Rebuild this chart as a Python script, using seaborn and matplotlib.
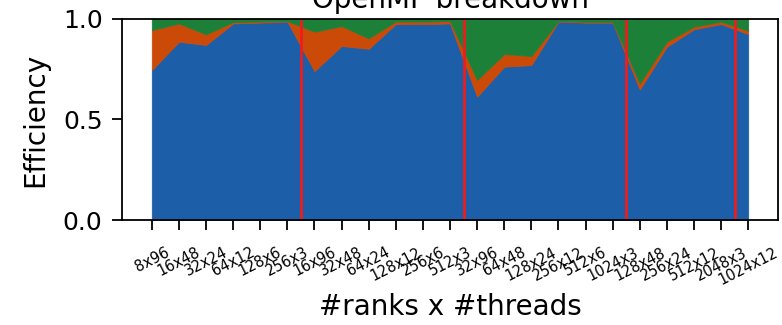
import matplotlib
matplotlib.use("Agg")
import matplotlib.pyplot as plt
import seaborn as sns
import numpy as np

labels = ["8x96", "16x48", "32x24", "64x12", "128x6", "256x3",
          "16x96", "32x48", "64x24", "128x12", "256x6", "512x3",
          "32x96", "64x48", "128x24", "256x12", "512x6", "1024x3",
          "128x48", "256x24", "512x12", "2048x3", "1024x12"]

parallel_eff = [0.746, 0.887, 0.871, 0.978, 0.982, 0.987,
                0.741, 0.866, 0.852, 0.975, 0.975, 0.978,
                0.614, 0.763, 0.771, 0.987, 0.982, 0.982,
                0.650, 0.862, 0.949, 0.975, 0.925]
omp_total = [0.945, 0.978, 0.924, 0.985, 0.988, 0.990,
             0.937, 0.965, 0.904, 0.988, 0.987, 0.990,
             0.697, 0.826, 0.816, 0.990, 0.987, 0.987,
             0.680, 0.887, 0.962, 0.987, 0.942]
total = [1.0] * 23

group_bounds = [5.5, 11.5, 17.5, 21.5]

blue = "#1c5fa8"
orange = "#cc4a08"
green = "#1d8039"
red = "#ee1c1c"

sns.set_theme(style="ticks", rc={"text.color": "black", "axes.labelcolor": "black",
                                 "xtick.color": "black", "ytick.color": "black"})
plt.rcParams['font.family'] = ['DejaVu Sans']

fig = plt.figure(figsize=(7.82, 3.25), dpi=100)
ax = fig.add_axes([122/782, 105/325, (778-122)/782, (220-19)/325])

x = np.arange(len(labels))
p = np.array(parallel_eff)
o = np.array(omp_total) - p
g = np.array(total) - np.array(omp_total)
ax.stackplot(x, p, o, g, colors=[blue, orange, green], linewidth=0.6,
             edgecolor="face")
for b in group_bounds:
    ax.axvline(b, color=red, linewidth=2.0)

ax.set_ylim(0, 1)
ax.set_yticks([0.0, 0.5, 1.0])
ax.set_yticklabels(["0.0", "0.5", "1.0"], fontsize=18)
ax.set_xticks(x)
ax.set_xticklabels(labels, rotation=27, fontsize=10.5, ha="center")
ax.tick_params(axis="both", length=7, width=1.3, color="black")
ax.tick_params(axis="y", pad=7)
ax.tick_params(axis="x", pad=11)
for s in ax.spines.values():
    s.set_linewidth(1.3)
    s.set_color("black")
ax.set_ylabel("Efficiency", fontsize=20, labelpad=10)
ax.set_xlabel("#ranks x #threads", fontsize=20, labelpad=4)
ax.set_title("OpenMP breakdown", fontsize=20, pad=8)
ax.grid(False)

fig.savefig("out.png", dpi=100)
